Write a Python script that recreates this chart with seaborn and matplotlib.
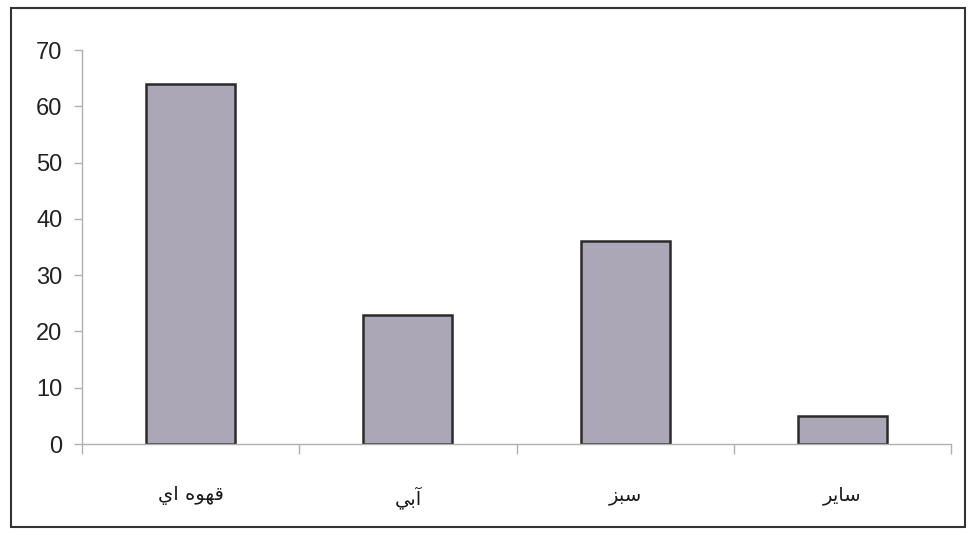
import matplotlib
matplotlib.use('Agg')
import matplotlib.pyplot as plt
import seaborn as sns
import pandas as pd
from matplotlib.patches import Rectangle

# data
categories = ['قهوه اي', 'آبي', 'سبز', 'ساير']
values = [64, 23, 36, 5]
y_ticks = [0, 10, 20, 30, 40, 50, 60, 70]

# minimal Arabic shaping (matplotlib does no joining / RTL by itself)
# letter: (isolated, final, initial, medial) ; None = does not join to the left
FORMS = {
    'ا': ('\ufe8d', '\ufe8e', None, None),
    'آ': ('\ufe81', '\ufe82', None, None),
    'ب': ('\ufe8f', '\ufe90', '\ufe91', '\ufe92'),
    'ز': ('\ufeaf', '\ufeb0', None, None),
    'ر': ('\ufead', '\ufeae', None, None),
    'س': ('\ufeb1', '\ufeb2', '\ufeb3', '\ufeb4'),
    'ق': ('\ufed5', '\ufed6', '\ufed7', '\ufed8'),
    'ه': ('\ufee9', '\ufeea', '\ufeeb', '\ufeec'),
    'و': ('\ufeed', '\ufeee', None, None),
    'ي': ('\ufef1', '\ufef2', '\ufef3', '\ufef4'),
}


def shape(text):
    out = []
    for i, ch in enumerate(text):
        if ch not in FORMS:
            out.append(ch)
            continue
        prev = text[i - 1] if i > 0 else ''
        nxt = text[i + 1] if i + 1 < len(text) else ''
        joins_prev = prev in FORMS and FORMS[prev][2] is not None
        joins_next = nxt in FORMS and FORMS[ch][2] is not None
        iso, fin, ini, med = FORMS[ch]
        if joins_prev and joins_next:
            out.append(med)
        elif joins_prev:
            out.append(fin)
        elif joins_next:
            out.append(ini)
        else:
            out.append(iso)
    return ''.join(reversed(out))


df = pd.DataFrame({'category': categories, 'value': values})

sns.set_style('white')
plt.rcParams['font.family'] = ['Liberation Sans', 'DejaVu Sans']

fig = plt.figure(figsize=(9.69, 5.35), dpi=100)
ax = fig.add_axes([0.0846, 0.170, 0.897, 0.7365])

sns.barplot(data=df, x='category', y='value', order=categories, ax=ax,
            color='#aba7b6', saturation=1, width=0.41,
            edgecolor='#2a2a2a', linewidth=1.8)

ax.set_ylim(0, 70)
ax.set_xlim(-0.5, len(categories) - 0.5)
ax.set_yticks(y_ticks)
ax.set_xticks(range(len(categories)))
ax.set_xticklabels([shape(c) for c in categories],
                   family=['DejaVu Sans'], fontsize=14, color='#1a1a1a')
ax.set_xticks([i - 0.5 for i in range(len(categories) + 1)], minor=True)
ax.tick_params(axis='x', which='major', bottom=True, length=0, pad=30)
ax.tick_params(axis='x', which='minor', bottom=True, length=7, width=1,
               color='#b0b0b0', direction='out')
ax.tick_params(axis='y', left=True, length=6, width=1, color='#b0b0b0', direction='out',
               labelsize=17, labelcolor='#222222', pad=8)
ax.set_xlabel('')
ax.set_ylabel('')

sns.despine(ax=ax, top=True, right=True)
for side in ['left', 'bottom']:
    ax.spines[side].set_color('#b0b0b0')
    ax.spines[side].set_linewidth(1)

# outer frame of the chart area
fig.patches.append(Rectangle((0.011, 0.015), 0.985, 0.970, transform=fig.transFigure,
                             fill=False, edgecolor='#333333', linewidth=1.5))

fig.savefig('out.png', dpi=100)
